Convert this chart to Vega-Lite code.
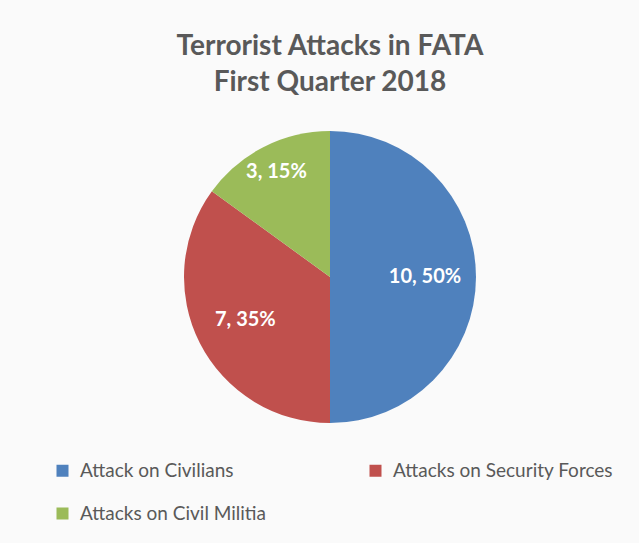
{
  "$schema": "https://vega.github.io/schema/vega-lite/v6.json",
  "width": 618,
  "height": 354,
  "autosize": {"type": "none"},
  "padding": {"left": 21, "top": 100, "right": 0, "bottom": 89},
  "background": "#FAFAFA",
  "title": {
    "text": ["Terrorist Attacks in FATA", "First Quarter 2018"],
    "font": "Lato",
    "fontSize": 28,
    "fontWeight": "bold",
    "color": "#595959",
    "anchor": "middle",
    "lineHeight": 36,
    "offset": 3
  },
  "data": {
    "values": [
      {"category": "Attack on Civilians", "count": 10, "label": "10, 50%", "idx": 1},
      {"category": "Attacks on Security Forces", "count": 7, "label": "7, 35%", "idx": 2},
      {"category": "Attacks on Civil Militia", "count": 3, "label": "3, 15%", "idx": 3}
    ]
  },
  "transform": [
    {"stack": "count", "sort": [{"field": "idx"}], "groupby": [], "as": ["s0", "s1"]},
    {"calculate": "(datum.s0 + datum.s1) / 2", "as": "mid"}
  ],
  "encoding": {
    "color": {
      "field": "category",
      "type": "nominal",
      "scale": {
        "domain": ["Attack on Civilians", "Attacks on Security Forces", "Attacks on Civil Militia"],
        "range": ["#4F81BD", "#C0504D", "#9BBB59"]
      },
      "legend": {
        "title": null,
        "orient": "none",
        "direction": "horizontal",
        "legendX": 32,
        "legendY": 361,
        "columns": 2,
        "columnPadding": 100,
        "rowPadding": 23,
        "symbolType": "square",
        "symbolSize": 144,
        "symbolStrokeWidth": 0,
        "labelFont": "Lato",
        "labelFontSize": 19,
        "labelColor": "#595959",
        "labelOffset": 8,
        "labelLimit": 300
      }
    }
  },
  "layer": [
    {
      "mark": {"type": "arc", "outerRadius": 146},
      "encoding": {
        "theta": {"field": "s0", "type": "quantitative", "scale": {"domain": [0, 20]}},
        "theta2": {"field": "s1"}
      }
    },
    {
      "transform": [{"filter": "datum.idx != 3"}],
      "mark": {"type": "text", "radius": 95, "font": "Lato", "fontSize": 20, "fontWeight": "bold"},
      "encoding": {
        "theta": {"field": "mid", "type": "quantitative", "scale": {"domain": [0, 20]}},
        "text": {"field": "label"},
        "color": {"value": "white"}
      }
    },
    {
      "transform": [{"filter": "datum.idx == 3"}],
      "mark": {"type": "text", "radius": 118, "font": "Lato", "fontSize": 20, "fontWeight": "bold"},
      "encoding": {
        "theta": {"field": "mid", "type": "quantitative", "scale": {"domain": [0, 20]}},
        "text": {"field": "label"},
        "color": {"value": "white"}
      }
    }
  ],
  "config": {"view": {"stroke": null}}
}
